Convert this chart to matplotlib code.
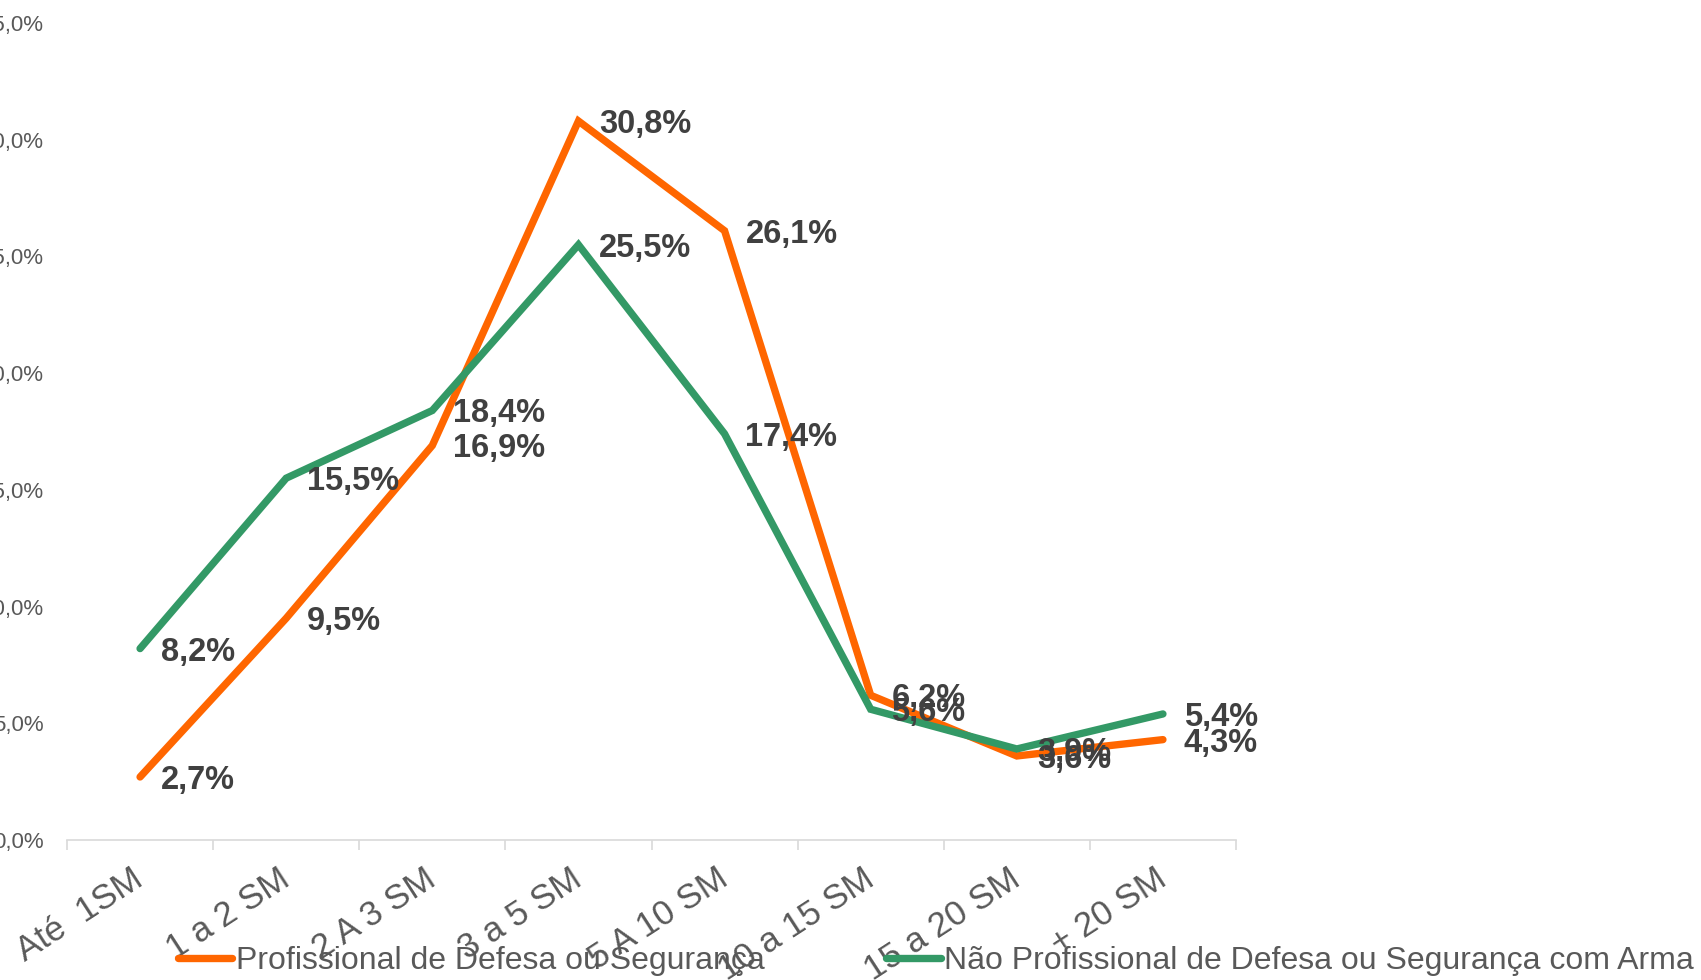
import matplotlib
matplotlib.use("Agg")
import matplotlib.pyplot as plt

categories = ["Até  1SM", "1 a 2 SM", "2 A 3 SM", "3 a 5 SM", "5 A 10 SM",
              "10 a 15 SM", "15 a 20 SM", "+ 20 SM"]
prof = [2.7, 9.5, 16.9, 30.8, 26.1, 6.2, 3.6, 4.3]
nao_prof = [8.2, 15.5, 18.4, 25.5, 17.4, 5.6, 3.9, 5.4]
series_names = ["Profissional de Defesa ou Segurança",
                "Não Profissional de Defesa ou Segurança com Arma"]
yticks = [0, 5, 10, 15, 20, 25, 30, 35]

ORANGE = "#FF6600"
GREEN = "#339966"
GRAY = "#595959"
DARK = "#404040"

plt.rcParams['font.family'] = ['Liberation Sans', 'DejaVu Sans']

fig = plt.figure(figsize=(17.01, 9.80), dpi=100)
ax = fig.add_axes([67/1701, 1-840/980, (1236-67)/1701, (840-23)/980])

x = list(range(len(categories)))
l1, = ax.plot(x, prof, color=ORANGE, lw=5.3, solid_capstyle='round', solid_joinstyle='miter')
l2, = ax.plot(x, nao_prof, color=GREEN, lw=5.3, solid_capstyle='round', solid_joinstyle='miter')

for xi, v in zip(x, prof):
    ax.annotate(f"{v:.1f}%".replace('.', ','), (xi, v), xytext=(15, -2.5),
                textcoords='offset points', ha='left', va='center',
                fontsize=23.5, fontweight='bold', color=DARK)
for xi, v in zip(x, nao_prof):
    ax.annotate(f"{v:.1f}%".replace('.', ','), (xi, v), xytext=(15, -2.5),
                textcoords='offset points', ha='left', va='center',
                fontsize=23.5, fontweight='bold', color=DARK)

ax.set_xlim(-0.5, len(categories) - 0.5)
ax.set_ylim(0, 35)
ax.set_yticks(yticks)
ax.set_yticklabels([f"{t:.1f}%".replace('.', ',') for t in yticks])
ax.tick_params(axis='y', length=0, pad=17, labelsize=16, labelcolor=GRAY)

ax.set_xticks([i - 0.5 for i in range(len(categories) + 1)])
ax.set_xticklabels([])
ax.set_xticks(x, minor=True)
ax.set_xticklabels(categories, minor=True, rotation=33, rotation_mode='anchor',
                   ha='right', va='center', fontsize=25, color=GRAY)
ax.tick_params(axis='x', which='major', length=7, width=1.2, color='#D9D9D9', direction='out')
ax.tick_params(axis='x', which='minor', length=0, pad=26)

for s in ['top', 'right', 'left']:
    ax.spines[s].set_visible(False)
ax.spines['bottom'].set_color('#D9D9D9')
ax.spines['bottom'].set_linewidth(1.2)

leg = fig.legend([l1, l2], series_names, loc='center left',
                 bbox_to_anchor=(178/1701, 1-961/980), ncol=2, frameon=False,
                 fontsize=23, handlelength=1.7, handletextpad=0.12,
                 columnspacing=3.8, borderpad=0, borderaxespad=0)
for t in leg.get_texts():
    t.set_color(GRAY)

fig.savefig("out.png", dpi=100)
